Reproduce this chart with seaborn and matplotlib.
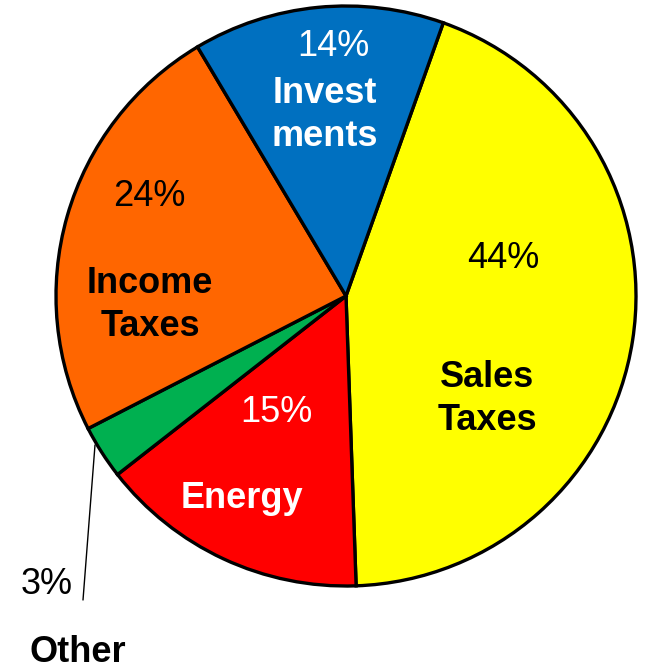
import matplotlib
matplotlib.use("Agg")
import matplotlib.pyplot as plt
import seaborn as sns

sns.set_theme(style="white")
plt.rcParams['font.family'] = ['Liberation Sans', 'DejaVu Sans']

categories = ["Sales Taxes", "Energy", "Other", "Income Taxes", "Investments"]
values = [44, 15, 3, 24, 14]
colors = ["#FFFF00", "#FF0000", "#00B050", "#FF6600", "#0070C0"]
pct_labels = ["44%", "15%", "3%", "24%", "14%"]
name_labels = ["Sales\nTaxes", "Energy", "Other", "Income\nTaxes", "Invest\nments"]
text_colors = ["black", "white", "black", "black", "white"]

W, H = 646, 672
cx, cy, R = 346, 296, 290
fig = plt.figure(figsize=(W / 100, H / 100), dpi=100)
ax = fig.add_axes([0, 0, 1, 1])
ax.pie(values, colors=colors, startangle=70.4, counterclock=False, radius=1,
       wedgeprops=dict(edgecolor="black", linewidth=2.4))
ax.set_aspect("auto")
ax.set_xlim(-cx / R, (W - cx) / R)
ax.set_ylim(-(H - cy) / R, cy / R)
ax.axis("off")

def d(px, py):
    return (px - cx) / R, (cy - py) / R

pct_pos = [d(503, 258), d(276, 412), d(47, 584), d(149, 196), d(333, 47)]
name_pos = [d(487, 399), d(242, 498), d(78, 652), d(150, 305), d(325, 115)]

fs = 26
for i in range(len(values)):
    x, y = pct_pos[i]
    ax.text(x, y, pct_labels[i], ha="center", va="center", fontsize=fs,
            color=text_colors[i])
    x, y = name_pos[i]
    ax.text(x, y, name_labels[i], ha="center", va="center", fontsize=fs,
            fontweight="bold", color=text_colors[i], linespacing=1.3)

(x0, y0), (x1, y1) = d(95, 445), d(83, 600)
ax.plot([x0, x1], [y0, y1], color="black", linewidth=1)

fig.savefig("out.png", dpi=100, facecolor="white")
